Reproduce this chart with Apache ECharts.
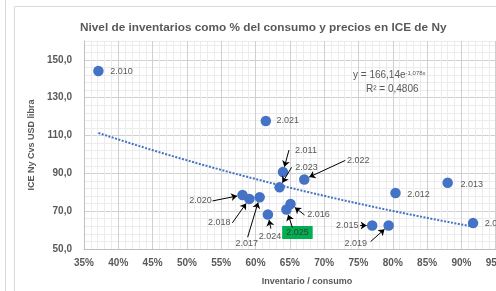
<!DOCTYPE html>
<html>
<head>
<meta charset="utf-8">
<script src="https://cdn.jsdelivr.net/npm/echarts@6/dist/echarts.min.js"></script>
<style>
  html, body { margin: 0; padding: 0; background: #fff; }
  #chart { width: 496px; height: 291px; }
</style>
</head>
<body>
<div id="chart"></div>
<script>
var years = ['2.010', '2.011', '2.012', '2.013', '2.014', '2.015', '2.016', '2.017',
             '2.018', '2.019', '2.020', '2.021', '2.022', '2.023', '2.024', '2.025'];
var invRatio = [37.1, 64.0, 80.4, 88.0, 91.7, 77.0, 65.1, 60.6,
                59.1, 79.4, 58.1, 61.5, 67.1, 63.5, 61.8, 64.5];
var icePrice = [144.1, 90.7, 79.6, 85.0, 63.7, 62.4, 73.8, 77.4,
                76.5, 62.4, 78.6, 117.7, 86.8, 82.6, 68.2, 70.9];
var trendA = 166.14, trendB = -1.078;

// label placement (px from the point) and where the leader arrow starts
var labelOffset = {
    '2.010': [23, 0], '2.011': [23, -22], '2.012': [23, 1], '2.013': [24, 2],
    '2.014': [23, 0], '2.015': [-25, 0], '2.016': [28, 11], '2.017': [-13, 46],
    '2.018': [-30, 24], '2.019': [-33, 18], '2.020': [-42, 6], '2.021': [22, 0],
    '2.022': [54, -19], '2.023': [27, -20], '2.024': [2, 22], '2.025': [11, 23]
};
var arrowFrom = {
    '2.011': [6, -22], '2.023': [12, -20], '2.022': [41, -19], '2.020': [-30, 6],
    '2.018': [-17, 24], '2.017': [-12, 40], '2.024': [3, 14], '2.025': [6, 18],
    '2.016': [14, 11], '2.015': [-12, 0], '2.019': [-18, 16]
};

var gray = '#595959';
var font = 'Liberation Sans';
var chart = echarts.init(document.getElementById('chart'));

var xMin = Math.min.apply(null, invRatio), xMax = Math.max.apply(null, invRatio);
var trend = [];
for (var i = 0; i <= 40; i++) {
    var x = xMin + (xMax - xMin) * i / 40;
    trend.push([x, trendA * Math.exp(trendB * x / 100)]);
}

var points = years.map(function (yr, i) {
    var item = {value: [invRatio[i], icePrice[i]], label: {offset: labelOffset[yr]}};
    if (yr === '2.025') {
        item.label.backgroundColor = '#00b050';
        item.label.padding = [2, 4];
        item.label.color = '#3a3a3a';
    }
    return item;
});

var major = '#d0d0d0', minor = '#ececec';

chart.setOption({
    animation: false,
    textStyle: {fontFamily: font},
    title: {
        text: 'Nivel de inventarios como % del consumo y precios en ICE de Ny',
        left: 75,
        top: 17,
        textStyle: {fontSize: 11.8, fontWeight: 'bold', color: gray, fontFamily: font}
    },
    graphic: [
        {type: 'line', shape: {x1: 5.5, y1: 0, x2: 5.5, y2: 291}, style: {stroke: '#d9d9d9'}},
        {type: 'rect', shape: {x: 14.5, y: 6.5, width: 600, height: 400}, style: {fill: 'none', stroke: '#d9d9d9'}},
        {
            type: 'text', left: 353, top: 70, z: 100,
            style: {
                text: '{a|y = 166,14e}{s|-1,078x}',
                rich: {
                    a: {fontSize: 10, fill: gray, fontFamily: font, verticalAlign: 'bottom'},
                    s: {fontSize: 6, fill: gray, fontFamily: font, verticalAlign: 'top'}
                }
            }
        },
        {type: 'text', left: 366, top: 84, z: 100, style: {text: 'R² = 0,4806', fontSize: 10, fill: gray, fontFamily: font}}
    ],
    grid: {left: 84, right: -34, top: 41, bottom: 42, outerBoundsMode: 'none', containLabel: false},
    xAxis: {
        type: 'value',
        min: 35, max: 100, interval: 1,
        name: 'Inventario / consumo',
        nameLocation: 'middle',
        nameGap: 28,
        nameTextStyle: {fontSize: 9, fontWeight: 'bold', color: gray},
        axisLine: {show: true, lineStyle: {color: '#bfbfbf'}},
        axisTick: {show: false},
        axisLabel: {
            fontSize: 10, fontWeight: 'bold', color: gray, margin: 9,
            formatter: function (v) { return v % 5 === 0 ? v + '%' : ''; }
        },
        splitLine: {show: true, lineStyle: {color: [major, minor, minor, minor, minor]}}
    },
    yAxis: {
        type: 'value',
        min: 50, max: 160, interval: 4,
        name: 'ICE Ny Cvs USD libra',
        nameLocation: 'middle',
        nameGap: 46,
        nameTextStyle: {fontSize: 9, fontWeight: 'bold', color: gray},
        axisLine: {show: true, lineStyle: {color: '#bfbfbf'}},
        axisTick: {show: false},
        axisLabel: {
            fontSize: 10, fontWeight: 'bold', color: gray, margin: 12,
            formatter: function (v) {
                return (v - 50) % 20 === 0 ? v.toFixed(1).replace('.', ',') : '';
            }
        },
        splitLine: {show: true, lineStyle: {color: [major, minor, minor, minor, minor]}}
    },
    series: [
        {
            id: 'trend',
            type: 'line',
            data: trend,
            showSymbol: false,
            silent: true,
            lineStyle: {color: '#4472c4', width: 2, type: [2, 1.5]},
            z: 2
        },
        {
            id: 'points',
            type: 'scatter',
            data: points,
            symbolSize: 10.5,
            itemStyle: {color: '#4472c4', opacity: 1},
            label: {
                show: true,
                position: 'inside',
                fontSize: 9,
                color: gray,
                formatter: function (p) { return years[p.dataIndex]; }
            },
            z: 3
        }
    ]
});

// leader arrows, from the label side to the edge of the marker
var marks = [];
years.forEach(function (yr, i) {
    var from = arrowFrom[yr];
    if (!from) return;
    var p = chart.convertToPixel({seriesIndex: 1}, [invRatio[i], icePrice[i]]);
    var sx = p[0] + from[0], sy = p[1] + from[1];
    var dx = p[0] - sx, dy = p[1] - sy, len = Math.sqrt(dx * dx + dy * dy), r = 5.5;
    marks.push([{x: sx, y: sy}, {x: p[0] - dx / len * r, y: p[1] - dy / len * r}]);
});
chart.setOption({
    series: [{
        id: 'points',
        markLine: {
            silent: true,
            animation: false,
            symbol: ['none', 'arrow'],
            symbolSize: 6,
            label: {show: false},
            lineStyle: {color: '#000', width: 1, type: 'solid'},
            data: marks
        }
    }]
});

window.onresize = function () {
    chart.resize();
};
</script>
</body>
</html>
